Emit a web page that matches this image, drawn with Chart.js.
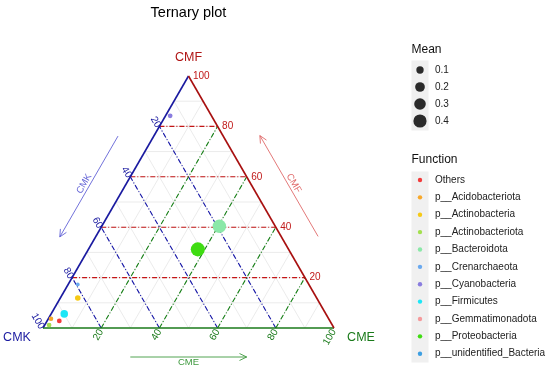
<!DOCTYPE html>
<html>
<head>
<meta charset="utf-8">
<script src="https://cdn.jsdelivr.net/npm/chart.js@4"></script>
<style>
  body { margin: 0; background: #fff; }
  #wrap { width: 550px; height: 374px; position: relative; }
</style>
</head>
<body>
<div id="wrap"><canvas id="ternChart"></canvas></div>
<script>
// categories and values (fractions of CMK / CME / CMF)
const categories = ['Others', 'p__Acidobacteriota', 'p__Actinobacteria', 'p__Actinobacteriota',
    'p__Bacteroidota', 'p__Crenarchaeota', 'p__Cyanobacteria', 'p__Firmicutes',
    'p__Gemmatimonadota', 'p__Proteobacteria', 'p__unidentified_Bacteria'];
const cmkValues = [0.930, 0.954, 0.821, 0.973, 0.192, 0.794, 0.142, 0.899, 0.973, 0.312, 0.954];
const cmeValues = [0.042, 0.009, 0.060, 0.015, 0.404, 0.033, 0.016, 0.045, 0.015, 0.376, 0.009];
const cmfValues = [0.028, 0.037, 0.119, 0.012, 0.404, 0.173, 0.842, 0.056, 0.012, 0.312, 0.037];
const meanValues = [0.023, 0.015, 0.043, 0.020, 0.42, 0.001, 0.022, 0.107, 0.005, 0.46, 0.003];
const colors = ['#f23b3b', '#f8a82a', '#f6c915', '#a3e04e', '#8be8a8', '#6aa9ef',
    '#8a7ddf', '#1ce6f6', '#f59a9c', '#3fdc12', '#3d9fe2'];
const meanBreaks = [0.1, 0.2, 0.3, 0.4];
const tickValues = [0.2, 0.4, 0.6, 0.8, 1.0];
const tickLabels = ['20', '40', '60', '80', '100'];
const gridValues = [0.1, 0.2, 0.3, 0.4, 0.5, 0.6, 0.7, 0.8, 0.9];

const FONT = "'Liberation Sans', Arial, sans-serif";
const H = Math.sqrt(3) / 2;

function tern(k, e, f) {
    const s = k + e + f;
    return { x: (e + f / 2) / s, y: (f / s) * H };
}
function radiusOf(m) {
    return Math.sqrt(3.5 + 100 * m);
}

const datasets = categories.map((name, i) => ({
    label: name,
    data: [tern(cmkValues[i], cmeValues[i], cmfValues[i])],
    backgroundColor: colors[i],
    borderColor: colors[i],
    borderWidth: 0,
    pointRadius: radiusOf(meanValues[i]),
    pointHoverRadius: radiusOf(meanValues[i]),
    order: (name === 'p__Gemmatimonadota' || name === 'p__unidentified_Bacteria') ? 1 : 0
}));

const ternaryPlugin = {
    id: 'ternary',
    beforeDatasetsDraw(chart) {
        const c = chart.ctx;
        const xs = chart.scales.x, ys = chart.scales.y;
        const px = p => [xs.getPixelForValue(p.x), ys.getPixelForValue(p.y)];

        function line(a, b, color, width, dash) {
            const A = px(a), B = px(b);
            c.save();
            c.strokeStyle = color;
            c.lineWidth = width;
            c.setLineDash(dash || []);
            c.beginPath();
            c.moveTo(A[0], A[1]);
            c.lineTo(B[0], B[1]);
            c.stroke();
            c.restore();
        }
        function text(str, x, y, color, size, align, base, rot) {
            c.save();
            c.translate(x, y);
            if (rot) c.rotate(rot * Math.PI / 180);
            c.fillStyle = color;
            c.font = size + 'px ' + FONT;
            c.textAlign = align;
            c.textBaseline = base;
            c.fillText(str, 0, 0);
            c.restore();
        }

        // minor grid
        gridValues.forEach(v => {
            line(tern(1 - v, 0, v), tern(0, 1 - v, v), '#e6e6e6', 0.8);
            line(tern(v, 1 - v, 0), tern(v, 0, 1 - v), '#e6e6e6', 0.8);
            line(tern(1 - v, v, 0), tern(0, v, 1 - v), '#e6e6e6', 0.8);
        });

        // major dash-dot lines
        const dd = [5, 2, 1, 2];
        tickValues.slice(0, 4).forEach(v => {
            line(tern(1 - v, 0, v), tern(0, 1 - v, v), '#c41515', 1.1, dd);
            line(tern(v, 1 - v, 0), tern(v, 0, 1 - v), '#1515a8', 1.1, dd);
            line(tern(1 - v, v, 0), tern(0, v, 1 - v), '#168016', 1.1, dd);
        });

        // edges
        const K = tern(1, 0, 0), E = tern(0, 1, 0), F = tern(0, 0, 1);
        line(K, F, '#1a1aa0', 1.6);
        line(K, E, '#1a7a1a', 1.6);
        line(E, F, '#a81010', 1.6);

        // tick labels
        tickValues.forEach((v, i) => {
            const pf = px(tern(0, 1 - v, v));
            text(tickLabels[i], pf[0] + 4.5, pf[1], '#c01a1a', 10, 'left', 'middle', 0);
            const pk = px(tern(v, 0, 1 - v));
            text(tickLabels[i], pk[0] - 1, pk[1] + 0.5, '#1a1aa0', 10, 'right', 'middle', 60);
            const pe = px(tern(1 - v, v, 0));
            text(tickLabels[i], pe[0], pe[1] + 2, '#1a7a1a', 10, 'right', 'middle', -60);
        });

        // vertex labels
        const pK = px(K), pE = px(E), pF = px(F);
        text('CMF', pF[0], pF[1] - 18, '#b01515', 12.5, 'center', 'middle', 0);
        text('CMK', pK[0] - 26, pK[1] + 10, '#1a1aa0', 12.5, 'center', 'middle', 0);
        text('CME', pE[0] + 27, pE[1] + 10, '#1a7a1a', 12.5, 'center', 'middle', 0);

        // axis arrows
        function arrow(a, b, t0, t1, nx, ny, off, color, label, rot) {
            const A = px(a), B = px(b);
            const s = [A[0] + (B[0] - A[0]) * t0 + nx * off, A[1] + (B[1] - A[1]) * t0 + ny * off];
            const e = [A[0] + (B[0] - A[0]) * t1 + nx * off, A[1] + (B[1] - A[1]) * t1 + ny * off];
            c.save();
            c.strokeStyle = color;
            c.lineWidth = 0.9;
            c.beginPath();
            c.moveTo(s[0], s[1]);
            c.lineTo(e[0], e[1]);
            const ang = Math.atan2(e[1] - s[1], e[0] - s[0]);
            const hl = 8, ha = 0.45;
            c.moveTo(e[0] - hl * Math.cos(ang - ha), e[1] - hl * Math.sin(ang - ha));
            c.lineTo(e[0], e[1]);
            c.lineTo(e[0] - hl * Math.cos(ang + ha), e[1] - hl * Math.sin(ang + ha));
            c.stroke();
            c.restore();
            const tm = (t0 + t1) / 2;
            const m = [A[0] + (B[0] - A[0]) * tm + nx * (off + 5.5), A[1] + (B[1] - A[1]) * tm + ny * (off + 5.5)];
            text(label, m[0], m[1], color, 9.5, 'center', 'middle', rot);
        }
        arrow(K, F, 0.7, 0.3, -H, -0.5, 31, '#6262d6', 'CMK', -60);
        arrow(E, F, 0.3, 0.7, H, -0.5, 32, '#e06a6a', 'CMF', 60);
        arrow(K, E, 0.3, 0.7, 0, 1, 29, '#3f9a3f', 'CME', 0);

        // title
        text('Ternary plot', (pK[0] + pE[0]) / 2, 13, '#000', 14.5, 'center', 'middle', 0);

        // legends
        c.save();
        c.fillStyle = '#f0f0f0';
        c.fillRect(411.5, 60.5, 17, 70);
        c.fillRect(411.5, 171.5, 17, 191);
        c.restore();
        text('Mean', 411.5, 50, '#111', 12, 'left', 'middle', 0);
        meanBreaks.forEach((m, i) => {
            const y = 70 + i * 17;
            c.save();
            c.fillStyle = '#2b2b2b';
            c.beginPath();
            c.arc(420, y, radiusOf(m), 0, Math.PI * 2);
            c.fill();
            c.restore();
            text(String(m), 435, y, '#222', 10, 'left', 'middle', 0);
        });
        text('Function', 411.5, 160, '#111', 12, 'left', 'middle', 0);
        categories.forEach((name, i) => {
            const y = 180 + i * 17.37;
            c.save();
            c.fillStyle = colors[i];
            c.beginPath();
            c.arc(420, y, 2.2, 0, Math.PI * 2);
            c.fill();
            c.restore();
            text(name, 435, y, '#222', 10, 'left', 'middle', 0);
        });
    }
};

const side = 291, x0 = 43, y0 = 328;
const ternChart = new Chart(document.getElementById('ternChart').getContext('2d'), {
    type: 'scatter',
    data: { datasets: datasets },
    options: {
        responsive: true,
        maintainAspectRatio: false,
        animation: false,
        layout: { padding: 0, autoPadding: false },
        scales: {
            x: { type: 'linear', display: false, min: -x0 / side, max: (550 - x0) / side },
            y: { type: 'linear', display: false, min: -(374 - y0) / side, max: y0 / side }
        },
        plugins: {
            legend: { display: false },
            tooltip: { enabled: false }
        }
    },
    plugins: [ternaryPlugin]
});
</script>
</body>
</html>
